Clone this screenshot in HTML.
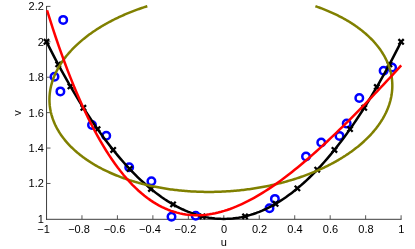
<!DOCTYPE html>
<html><head><meta charset="utf-8"><title>plot</title>
<style>
html,body{margin:0;padding:0;background:#fff;}
body{width:415px;height:249px;overflow:hidden;}
svg{display:block;}
text{font-family:"Liberation Sans",sans-serif;font-size:11px;fill:#000;}
</style></head><body>
<svg style="will-change:transform" width="415" height="249" viewBox="0 0 415 249">
<rect width="415" height="249" fill="#fff"/>
<defs><clipPath id="c"><rect x="45" y="3" width="358" height="218"/></clipPath></defs>
<g stroke="#3c3c3c" stroke-width="1" fill="none">
<path d="M46.55 6V219.8M46.05 219.3H401.60"/>
</g><g stroke="#444" stroke-width="0.9" fill="none">
<path d="M81.96 219.25v-4"/>
<path d="M117.42 219.25v-4"/>
<path d="M152.88 219.25v-4"/>
<path d="M188.34 219.25v-4"/>
<path d="M223.80 219.25v-4"/>
<path d="M259.26 219.25v-4"/>
<path d="M294.72 219.25v-4"/>
<path d="M330.18 219.25v-4"/>
<path d="M365.64 219.25v-4"/>
<path d="M401.10 219.25v-4"/>
<path d="M46.5 183.48h4"/>
<path d="M46.5 148.06h4"/>
<path d="M46.5 112.64h4"/>
<path d="M46.5 77.22h4"/>
<path d="M46.5 41.80h4"/>
<path d="M46.5 6.38h4"/>
</g>
<text x="46.80" y="232.8" text-anchor="middle">1</text>
<text x="43.74" y="232.8" text-anchor="end">−</text>
<text x="82.26" y="232.8" text-anchor="middle">0.8</text>
<text x="74.61" y="232.8" text-anchor="end">−</text>
<text x="117.72" y="232.8" text-anchor="middle">0.6</text>
<text x="110.08" y="232.8" text-anchor="end">−</text>
<text x="153.18" y="232.8" text-anchor="middle">0.4</text>
<text x="145.54" y="232.8" text-anchor="end">−</text>
<text x="188.64" y="232.8" text-anchor="middle">0.2</text>
<text x="181.00" y="232.8" text-anchor="end">−</text>
<text x="224.10" y="232.8" text-anchor="middle">0</text>
<text x="259.56" y="232.8" text-anchor="middle">0.2</text>
<text x="295.02" y="232.8" text-anchor="middle">0.4</text>
<text x="330.48" y="232.8" text-anchor="middle">0.6</text>
<text x="365.94" y="232.8" text-anchor="middle">0.8</text>
<text x="401.40" y="232.8" text-anchor="middle">1</text>
<text x="43.9" y="222.85" text-anchor="end">1</text>
<text x="43.9" y="187.43" text-anchor="end">1.2</text>
<text x="43.9" y="152.01" text-anchor="end">1.4</text>
<text x="43.9" y="116.59" text-anchor="end">1.6</text>
<text x="43.9" y="81.17" text-anchor="end">1.8</text>
<text x="43.9" y="45.75" text-anchor="end">2</text>
<text x="43.9" y="10.33" text-anchor="end">2.2</text>
<text x="223.8" y="246.2" text-anchor="middle">u</text>
<text transform="translate(21.3 113.1) rotate(-90)" text-anchor="middle">v</text>
<circle cx="63.2" cy="19.9" r="3.75" stroke="#0000ff" stroke-width="2.5" fill="none"/>
<circle cx="54.5" cy="76.75" r="3.75" stroke="#0000ff" stroke-width="2.5" fill="none"/>
<circle cx="60.4" cy="91.4" r="3.75" stroke="#0000ff" stroke-width="2.5" fill="none"/>
<circle cx="92" cy="125" r="3.75" stroke="#0000ff" stroke-width="2.5" fill="none"/>
<circle cx="106.25" cy="135.75" r="3.75" stroke="#0000ff" stroke-width="2.5" fill="none"/>
<circle cx="129.2" cy="167.2" r="3.75" stroke="#0000ff" stroke-width="2.5" fill="none"/>
<circle cx="151.4" cy="181.2" r="3.75" stroke="#0000ff" stroke-width="2.5" fill="none"/>
<circle cx="171.5" cy="216.7" r="3.75" stroke="#0000ff" stroke-width="2.5" fill="none"/>
<circle cx="195.7" cy="215.8" r="3.75" stroke="#0000ff" stroke-width="2.5" fill="none"/>
<circle cx="269.5" cy="208.25" r="3.75" stroke="#0000ff" stroke-width="2.5" fill="none"/>
<circle cx="274.9" cy="198.9" r="3.75" stroke="#0000ff" stroke-width="2.5" fill="none"/>
<circle cx="306" cy="156.5" r="3.75" stroke="#0000ff" stroke-width="2.5" fill="none"/>
<circle cx="321.25" cy="142.5" r="3.75" stroke="#0000ff" stroke-width="2.5" fill="none"/>
<circle cx="339.5" cy="135.9" r="3.75" stroke="#0000ff" stroke-width="2.5" fill="none"/>
<circle cx="346.7" cy="123.6" r="3.75" stroke="#0000ff" stroke-width="2.5" fill="none"/>
<circle cx="359.3" cy="98" r="3.75" stroke="#0000ff" stroke-width="2.5" fill="none"/>
<circle cx="383.6" cy="70.8" r="3.75" stroke="#0000ff" stroke-width="2.5" fill="none"/>
<circle cx="392.1" cy="67.6" r="3.75" stroke="#0000ff" stroke-width="2.5" fill="none"/>
<g clip-path="url(#c)" fill="none" stroke-linejoin="round">
<polyline points="46.50,41.80 49.46,47.65 52.41,53.41 55.37,59.07 58.32,64.63 61.28,70.09 64.23,75.45 67.19,80.71 70.14,85.88 73.09,90.95 76.05,95.91 79.00,100.78 81.96,105.56 84.92,110.23 87.87,114.80 90.83,119.28 93.78,123.66 96.73,127.94 99.69,132.12 102.65,136.20 105.60,140.19 108.56,144.08 111.51,147.86 114.47,151.55 117.42,155.14 120.38,158.64 123.33,162.03 126.28,165.33 129.24,168.52 132.20,171.62 135.15,174.62 138.10,177.53 141.06,180.33 144.02,183.04 146.97,185.64 149.93,188.15 152.88,190.56 155.84,192.88 158.79,195.09 161.75,197.21 164.70,199.22 167.66,201.14 170.61,202.96 173.56,204.68 176.52,206.31 179.48,207.83 182.43,209.26 185.39,210.59 188.34,211.82 191.30,212.95 194.25,213.98 197.21,214.92 200.16,215.75 203.12,216.49 206.07,217.13 209.03,217.67 211.98,218.11 214.94,218.46 217.89,218.70 220.84,218.85 223.80,218.90 226.75,218.85 229.71,218.70 232.67,218.46 235.62,218.11 238.57,217.67 241.53,217.13 244.49,216.49 247.44,215.75 250.40,214.92 253.35,213.98 256.31,212.95 259.26,211.82 262.22,210.59 265.17,209.26 268.12,207.83 271.08,206.31 274.03,204.68 276.99,202.96 279.95,201.14 282.90,199.22 285.86,197.21 288.81,195.09 291.76,192.88 294.72,190.56 297.68,188.15 300.63,185.64 303.59,183.04 306.54,180.33 309.50,177.53 312.45,174.62 315.41,171.62 318.36,168.52 321.31,165.33 324.27,162.03 327.23,158.64 330.18,155.14 333.14,151.55 336.09,147.86 339.05,144.08 342.00,140.19 344.96,136.20 347.91,132.12 350.87,127.94 353.82,123.66 356.78,119.28 359.73,114.80 362.69,110.23 365.64,105.56 368.60,100.78 371.55,95.91 374.50,90.95 377.46,85.88 380.42,80.71 383.37,75.45 386.33,70.09 389.28,64.63 392.24,59.07 395.19,53.41 398.15,47.65 401.10,41.80" stroke="#000" stroke-width="2.5"/>
</g>
<path d="M43.85 39.15l5.3 5.3M43.85 44.45l5.3 -5.3M55.55 61.76l5.3 5.3M55.55 67.06l5.3 -5.3M67.79 83.74l5.3 5.3M67.79 89.04l5.3 -5.3M80.73 105.16l5.3 5.3M80.73 110.46l5.3 -5.3M94.91 126.47l5.3 5.3M94.91 131.77l5.3 -5.3M110.51 147.29l5.3 5.3M110.51 152.59l5.3 -5.3M127.00 166.31l5.3 5.3M127.00 171.61l5.3 -5.3M148.28 186.33l5.3 5.3M148.28 191.63l5.3 -5.3M170.44 201.76l5.3 5.3M170.44 207.06l5.3 -5.3M199.87 213.70l5.3 5.3M199.87 219.00l5.3 -5.3M242.43 213.70l5.3 5.3M242.43 219.00l5.3 -5.3M272.92 201.15l5.3 5.3M272.92 206.45l5.3 -5.3M294.73 185.75l5.3 5.3M294.73 191.05l5.3 -5.3M314.59 167.06l5.3 5.3M314.59 172.36l5.3 -5.3M331.79 147.29l5.3 5.3M331.79 152.59l5.3 -5.3M347.39 126.47l5.3 5.3M347.39 131.77l5.3 -5.3M361.57 105.16l5.3 5.3M361.57 110.46l5.3 -5.3M374.16 84.35l5.3 5.3M374.16 89.65l5.3 -5.3M386.75 61.76l5.3 5.3M386.75 67.06l5.3 -5.3M398.45 39.15l5.3 5.3M398.45 44.45l5.3 -5.3" stroke="#000" stroke-width="2.3" fill="none"/>
<g clip-path="url(#c)" fill="none" stroke-linejoin="round">
<polyline points="315.43,6.20 315.48,6.22 316.72,6.65 317.96,7.08 319.19,7.52 320.41,7.97 321.62,8.43 322.83,8.89 324.03,9.36 325.22,9.83 326.40,10.31 327.58,10.80 328.74,11.29 329.90,11.79 331.05,12.30 332.19,12.81 333.33,13.33 334.45,13.85 335.57,14.38 336.68,14.92 337.78,15.46 338.87,16.01 339.95,16.56 341.02,17.12 342.08,17.68 343.13,18.25 344.18,18.83 345.21,19.41 346.24,20.00 347.25,20.59 348.26,21.19 349.26,21.80 350.24,22.41 351.22,23.02 352.19,23.64 353.14,24.27 354.09,24.90 355.03,25.53 355.95,26.17 356.87,26.82 357.78,27.47 358.67,28.13 359.56,28.79 360.43,29.45 361.29,30.12 362.15,30.80 362.99,31.48 363.82,32.16 364.64,32.85 365.45,33.54 366.25,34.24 367.04,34.95 367.81,35.65 368.58,36.36 369.33,37.08 370.07,37.80 370.81,38.52 371.53,39.25 372.23,39.98 372.93,40.72 373.62,41.46 374.29,42.21 374.95,42.95 375.60,43.70 376.24,44.46 376.87,45.22 377.48,45.98 378.08,46.75 378.68,47.52 379.25,48.29 379.82,49.07 380.38,49.85 380.92,50.63 381.45,51.42 381.97,52.21 382.47,53.00 382.97,53.80 383.45,54.59 383.92,55.40 384.37,56.20 384.82,57.01 385.25,57.82 385.67,58.63 386.07,59.45 386.47,60.26 386.85,61.08 387.22,61.91 387.57,62.73 387.92,63.56 388.25,64.39 388.56,65.22 388.87,66.05 389.16,66.89 389.44,67.73 389.71,68.56 389.96,69.41 390.20,70.25 390.43,71.09 390.64,71.94 390.85,72.79 391.04,73.64 391.21,74.49 391.37,75.34 391.52,76.19 391.66,77.05 391.79,77.91 391.90,78.76 392.00,79.62 392.08,80.48 392.15,81.34 392.21,82.20 392.26,83.06 392.29,83.93 392.31,84.79 392.32,85.65 392.31,86.52 392.29,87.38 392.26,88.25 392.21,89.11 392.16,89.98 392.08,90.85 392.00,91.71 391.90,92.58 391.79,93.44 391.67,94.31 391.53,95.18 391.38,96.04 391.22,96.91 391.04,97.77 390.86,98.64 390.65,99.50 390.44,100.37 390.21,101.23 389.97,102.09 389.72,102.95 389.45,103.82 389.18,104.68 388.88,105.54 388.58,106.39 388.26,107.25 387.93,108.11 387.59,108.96 387.23,109.82 386.87,110.67 386.49,111.52 386.09,112.37 385.69,113.22 385.27,114.06 384.84,114.91 384.39,115.75 383.94,116.59 383.47,117.43 382.99,118.27 382.50,119.11 381.99,119.94 381.47,120.77 380.94,121.60 380.40,122.43 379.85,123.26 379.28,124.08 378.70,124.90 378.11,125.72 377.51,126.53 376.90,127.35 376.27,128.16 375.63,128.96 374.98,129.77 374.32,130.57 373.65,131.37 372.97,132.17 372.27,132.96 371.56,133.75 370.84,134.54 370.11,135.32 369.37,136.10 368.62,136.88 367.85,137.65 367.08,138.42 366.29,139.19 365.49,139.95 364.68,140.71 363.86,141.47 363.03,142.22 362.19,142.97 361.34,143.71 360.47,144.46 359.60,145.19 358.72,145.93 357.82,146.65 356.92,147.38 356.00,148.10 355.07,148.82 354.14,149.53 353.19,150.24 352.24,150.94 351.27,151.64 350.29,152.33 349.31,153.02 348.31,153.71 347.31,154.39 346.29,155.06 345.27,155.74 344.23,156.40 343.19,157.06 342.13,157.72 341.07,158.37 340.00,159.02 338.92,159.66 337.83,160.30 336.73,160.93 335.63,161.56 334.51,162.18 333.39,162.79 332.25,163.40 331.11,164.01 329.96,164.61 328.80,165.20 327.64,165.79 326.46,166.37 325.28,166.95 324.09,167.52 322.89,168.09 321.68,168.65 320.47,169.20 319.25,169.75 318.02,170.29 316.78,170.83 315.54,171.36 314.29,171.89 313.03,172.40 311.76,172.92 310.49,173.42 309.21,173.92 307.93,174.42 306.64,174.91 305.34,175.39 304.03,175.86 302.72,176.33 301.40,176.80 300.08,177.25 298.75,177.70 297.41,178.15 296.07,178.58 294.73,179.01 293.37,179.44 292.01,179.85 290.65,180.26 289.28,180.67 287.91,181.07 286.53,181.46 285.14,181.84 283.75,182.22 282.36,182.59 280.96,182.95 279.56,183.31 278.15,183.66 276.74,184.00 275.32,184.33 273.90,184.66 272.48,184.98 271.05,185.30 269.61,185.61 268.18,185.91 266.74,186.20 265.30,186.49 263.85,186.77 262.40,187.04 260.95,187.30 259.49,187.56 258.03,187.81 256.57,188.05 255.10,188.29 253.64,188.52 252.17,188.74 250.70,188.95 249.22,189.16 247.74,189.36 246.27,189.55 244.79,189.73 243.30,189.91 241.82,190.08 240.33,190.24 238.85,190.40 237.36,190.54 235.87,190.68 234.38,190.82 232.89,190.94 231.39,191.06 229.90,191.17 228.41,191.27 226.91,191.37 225.42,191.45 223.92,191.53 222.42,191.61 220.93,191.67 219.43,191.73 217.94,191.78 216.44,191.82 214.95,191.85 213.45,191.88 211.96,191.90 210.46,191.91 208.97,191.92 207.48,191.91 205.99,191.90 204.50,191.89 203.01,191.86 201.52,191.83 200.04,191.79 198.55,191.74 197.07,191.68 195.59,191.62 194.11,191.55 192.63,191.47 191.16,191.38 189.69,191.29 188.22,191.19 186.75,191.08 185.29,190.96 183.82,190.84 182.36,190.71 180.91,190.57 179.45,190.42 178.00,190.27 176.56,190.11 175.11,189.94 173.67,189.76 172.24,189.58 170.81,189.39 169.38,189.19 167.95,188.99 166.53,188.77 165.11,188.55 163.70,188.33 162.29,188.09 160.89,187.85 159.49,187.60 158.10,187.35 156.71,187.08 155.32,186.81 153.94,186.53 152.57,186.25 151.20,185.96 149.83,185.66 148.48,185.35 147.12,185.04 145.78,184.72 144.43,184.39 143.10,184.05 141.77,183.71 140.44,183.37 139.13,183.01 137.81,182.65 136.51,182.28 135.21,181.90 133.92,181.52 132.63,181.13 131.35,180.74 130.08,180.33 128.81,179.92 127.56,179.51 126.30,179.08 125.06,178.65 123.82,178.22 122.59,177.78 121.37,177.33 120.16,176.87 118.95,176.41 117.75,175.94 116.56,175.47 115.38,174.99 114.20,174.50 113.04,174.01 111.88,173.51 110.73,173.00 109.59,172.49 108.45,171.97 107.33,171.45 106.21,170.92 105.10,170.38 104.00,169.84 102.91,169.29 101.83,168.74 100.76,168.18 99.70,167.62 98.65,167.05 97.60,166.47 96.57,165.89 95.54,165.30 94.53,164.71 93.52,164.11 92.52,163.50 91.54,162.89 90.56,162.28 89.59,161.66 88.64,161.03 87.69,160.40 86.75,159.77 85.83,159.13 84.91,158.48 84.00,157.83 83.11,157.17 82.22,156.51 81.35,155.85 80.49,155.18 79.63,154.50 78.79,153.82 77.96,153.14 77.14,152.45 76.33,151.76 75.53,151.06 74.74,150.35 73.97,149.65 73.20,148.94 72.45,148.22 71.71,147.50 70.97,146.78 70.25,146.05 69.55,145.32 68.85,144.58 68.16,143.84 67.49,143.09 66.83,142.35 66.18,141.60 65.54,140.84 64.91,140.08 64.30,139.32 63.70,138.55 63.10,137.78 62.53,137.01 61.96,136.23 61.40,135.45 60.86,134.67 60.33,133.88 59.81,133.09 59.31,132.30 58.81,131.50 58.33,130.71 57.86,129.90 57.41,129.10 56.96,128.29 56.53,127.48 56.11,126.67 55.71,125.85 55.31,125.04 54.93,124.22 54.56,123.39 54.21,122.57 53.86,121.74 53.53,120.91 53.22,120.08 52.91,119.25 52.62,118.41 52.34,117.57 52.07,116.74 51.82,115.89 51.58,115.05 51.35,114.21 51.14,113.36 50.93,112.51 50.74,111.66 50.57,110.81 50.41,109.96 50.26,109.11 50.12,108.25 49.99,107.39 49.88,106.54 49.78,105.68 49.70,104.82 49.63,103.96 49.57,103.10 49.52,102.24 49.49,101.37 49.47,100.51 49.46,99.65 49.47,98.78 49.49,97.92 49.52,97.05 49.57,96.19 49.62,95.32 49.70,94.45 49.78,93.59 49.88,92.72 49.99,91.86 50.11,90.99 50.25,90.12 50.40,89.26 50.56,88.39 50.74,87.53 50.92,86.66 51.13,85.80 51.34,84.93 51.57,84.07 51.81,83.21 52.06,82.35 52.33,81.48 52.60,80.62 52.90,79.76 53.20,78.91 53.52,78.05 53.85,77.19 54.19,76.34 54.55,75.48 54.91,74.63 55.29,73.78 55.69,72.93 56.09,72.08 56.51,71.24 56.94,70.39 57.39,69.55 57.84,68.71 58.31,67.87 58.79,67.03 59.28,66.19 59.79,65.36 60.31,64.53 60.84,63.70 61.38,62.87 61.93,62.04 62.50,61.22 63.08,60.40 63.67,59.58 64.27,58.77 64.88,57.95 65.51,57.14 66.15,56.34 66.80,55.53 67.46,54.73 68.13,53.93 68.81,53.13 69.51,52.34 70.22,51.55 70.94,50.76 71.67,49.98 72.41,49.20 73.16,48.42 73.93,47.65 74.70,46.88 75.49,46.11 76.29,45.35 77.10,44.59 77.92,43.83 78.75,43.08 79.59,42.33 80.44,41.59 81.31,40.84 82.18,40.11 83.06,39.37 83.96,38.65 84.86,37.92 85.78,37.20 86.71,36.48 87.64,35.77 88.59,35.06 89.54,34.36 90.51,33.66 91.49,32.97 92.47,32.28 93.47,31.59 94.47,30.91 95.49,30.24 96.51,29.56 97.55,28.90 98.59,28.24 99.65,27.58 100.71,26.93 101.78,26.28 102.86,25.64 103.95,25.00 105.05,24.37 106.15,23.74 107.27,23.12 108.39,22.51 109.53,21.90 110.67,21.29 111.82,20.69 112.98,20.10 114.14,19.51 115.32,18.93 116.50,18.35 117.69,17.78 118.89,17.21 120.10,16.65 121.31,16.10 122.53,15.55 123.76,15.01 125.00,14.47 126.24,13.94 127.49,13.41 128.75,12.90 130.02,12.38 131.29,11.88 132.57,11.38 133.85,10.88 135.14,10.39 136.44,9.91 137.75,9.44 139.06,8.97 140.38,8.50 141.70,8.05 143.03,7.60 144.37,7.15 145.71,6.72 147.05,6.29 147.33,6.20" stroke="#808000" stroke-width="2.5"/>
<polyline points="47.05,10.25 50.00,19.69 52.95,28.86 55.90,37.74 58.85,46.35 61.81,54.70 64.76,62.78 67.71,70.60 70.66,78.17 73.61,85.48 76.56,92.55 79.51,99.37 82.47,105.95 85.42,112.30 88.37,118.42 91.32,124.31 94.27,129.98 97.22,135.43 100.17,140.66 103.12,145.68 106.07,150.49 109.03,155.10 111.98,159.50 114.93,163.71 117.88,167.73 120.83,171.55 123.78,175.19 126.73,178.65 129.69,181.93 132.64,185.03 135.59,187.96 138.54,190.72 141.49,193.31 144.44,195.74 147.39,198.01 150.34,200.13 153.30,202.09 156.25,203.91 159.20,205.57 162.15,207.09 165.10,208.48 168.05,209.72 171.00,210.83 173.95,211.81 176.90,212.65 179.86,213.38 182.81,213.98 185.76,214.46 188.71,214.82 191.66,215.06 194.61,215.20 197.56,215.22 200.51,215.14 203.47,214.95 206.42,214.66 209.37,214.27 212.32,213.79 215.27,213.20 218.22,212.53 221.17,211.77 224.12,210.92 227.08,209.98 230.03,208.96 232.98,207.86 235.93,206.69 238.88,205.43 241.83,204.10 244.78,202.70 247.74,201.23 250.69,199.68 253.64,198.08 256.59,196.40 259.54,194.67 262.49,192.87 265.44,191.02 268.39,189.11 271.34,187.14 274.30,185.12 277.25,183.04 280.20,180.92 283.15,178.74 286.10,176.52 289.05,174.26 292.00,171.94 294.95,169.59 297.91,167.19 300.86,164.76 303.81,162.28 306.76,159.77 309.71,157.22 312.66,154.63 315.61,152.01 318.56,149.36 321.52,146.68 324.47,143.96 327.42,141.22 330.37,138.45 333.32,135.65 336.27,132.82 339.22,129.97 342.18,127.09 345.13,124.19 348.08,121.27 351.03,118.32 353.98,115.35 356.93,112.36 359.88,109.35 362.83,106.32 365.79,103.27 368.74,100.20 371.69,97.11 374.64,94.01 377.59,90.89 380.54,87.75 383.49,84.59 386.44,81.42 389.39,78.23 392.35,75.03 395.30,71.81 398.25,68.57 401.20,65.32" stroke="#ff0000" stroke-width="2.5"/>
</g>
</svg></body></html>
